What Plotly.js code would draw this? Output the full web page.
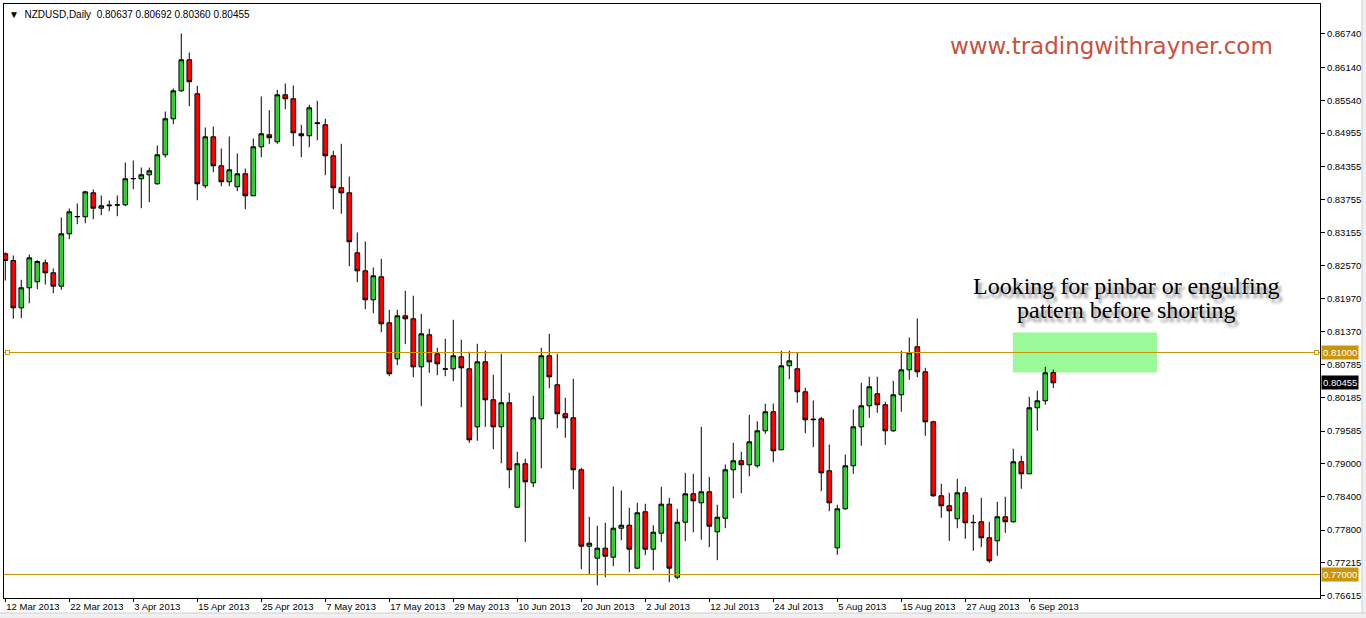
<!DOCTYPE html>
<html>
<head>
<meta charset="utf-8">
<script src="https://cdn.plot.ly/plotly-3.0.1.min.js"></script>
<style>html,body{margin:0;padding:0;background:#fff;}#chart{width:1366px;height:618px;}</style>
</head>
<body>
<div id="chart"></div>
<script>
const symbolTitle = 'NZDUSD,Daily';
const dates = [
'2013-03-12','2013-03-13','2013-03-14','2013-03-15','2013-03-18','2013-03-19','2013-03-20','2013-03-21','2013-03-22','2013-03-25','2013-03-26','2013-03-27','2013-03-28','2013-03-29',
'2013-04-01','2013-04-02','2013-04-03','2013-04-04','2013-04-05','2013-04-08','2013-04-09','2013-04-10','2013-04-11','2013-04-12','2013-04-15','2013-04-16','2013-04-17','2013-04-18','2013-04-19','2013-04-22','2013-04-23','2013-04-24','2013-04-25','2013-04-26','2013-04-29','2013-04-30',
'2013-05-01','2013-05-02','2013-05-03','2013-05-06','2013-05-07','2013-05-08','2013-05-09','2013-05-10','2013-05-13','2013-05-14','2013-05-15','2013-05-16','2013-05-17','2013-05-20','2013-05-21','2013-05-22','2013-05-23','2013-05-24','2013-05-27','2013-05-28','2013-05-29','2013-05-30','2013-05-31',
'2013-06-03','2013-06-04','2013-06-05','2013-06-06','2013-06-07','2013-06-10','2013-06-11','2013-06-12','2013-06-13','2013-06-14','2013-06-17','2013-06-18','2013-06-19','2013-06-20','2013-06-21','2013-06-24','2013-06-25','2013-06-26','2013-06-27','2013-06-28',
'2013-07-01','2013-07-02','2013-07-03','2013-07-04','2013-07-05','2013-07-08','2013-07-09','2013-07-10','2013-07-11','2013-07-12','2013-07-15','2013-07-16','2013-07-17','2013-07-18','2013-07-19','2013-07-22','2013-07-23','2013-07-24','2013-07-25','2013-07-26','2013-07-29','2013-07-30','2013-07-31',
'2013-08-01','2013-08-02','2013-08-05','2013-08-06','2013-08-07','2013-08-08','2013-08-09','2013-08-12','2013-08-13','2013-08-14','2013-08-15','2013-08-16','2013-08-19','2013-08-20','2013-08-21','2013-08-22','2013-08-23','2013-08-26','2013-08-27','2013-08-28','2013-08-29','2013-08-30',
'2013-09-02','2013-09-03','2013-09-04','2013-09-05','2013-09-06','2013-09-09','2013-09-10','2013-09-11'];
const open = [
0.82778,0.82658,0.81805,0.82166,0.82274,0.82616,0.82436,0.82195,0.83139,0.83445,0.83445,0.83877,0.83600,0.83643,
0.83655,0.83661,0.84130,0.84130,0.84202,0.84040,0.84562,0.85211,0.85715,0.86274,0.85661,0.84004,0.84886,0.84364,0.84076,0.83986,0.84220,0.83823,0.84706,0.84923,0.84796,0.85643,
0.85571,0.84941,0.84905,0.85140,0.85103,0.84544,0.83968,0.83877,0.82796,0.82472,0.81950,0.82364,0.81535,0.80886,0.81661,0.81607,0.80742,0.81319,0.80977,0.80706,0.80706,0.80923,0.80706,
0.79661,0.80832,0.80148,0.79661,0.80094,0.78213,0.78995,0.78652,0.79805,0.80941,0.80418,0.79896,0.79823,0.78887,0.77510,0.77294,0.77474,0.77312,0.77834,0.77888,
0.77114,0.78130,0.77456,0.77744,0.78267,0.76951,0.77942,0.78454,0.78292,0.78490,0.77769,0.78014,0.78887,0.79049,0.78977,0.78959,0.79589,0.79932,0.79247,0.80760,0.80706,0.80292,0.79800,
0.79805,0.78869,0.77481,0.78184,0.78959,0.79661,0.80040,0.80256,0.80058,0.79589,0.80238,0.80688,0.81103,0.80652,0.79751,0.78418,0.78238,0.78004,0.78472,0.77940,0.77950,0.77661,
0.77607,0.78040,0.77950,0.79031,0.78814,0.80004,0.80130,0.80637];
const high = [
0.82802,0.82748,0.82310,0.82766,0.82663,0.82676,0.82514,0.83432,0.83595,0.83685,0.83913,0.83937,0.83829,0.83739,
0.83829,0.84423,0.84459,0.84333,0.84333,0.84730,0.85342,0.85757,0.86748,0.86405,0.85805,0.85054,0.85072,0.84676,0.84892,0.84586,0.84315,0.84856,0.85613,0.85366,0.85733,0.85847,
0.85811,0.85103,0.85463,0.85535,0.85211,0.84634,0.84760,0.84171,0.83162,0.83000,0.82532,0.82688,0.81769,0.81769,0.82112,0.82022,0.81697,0.81427,0.81085,0.81247,0.81589,0.81229,0.81013,
0.81157,0.81031,0.80598,0.80977,0.80274,0.79211,0.79085,0.80220,0.81085,0.81337,0.80977,0.80184,0.80526,0.78923,0.78040,0.77878,0.77932,0.78586,0.78514,0.78202,
0.78292,0.78274,0.77888,0.78580,0.78382,0.78184,0.78832,0.78814,0.79661,0.78760,0.78256,0.78982,0.79373,0.79211,0.79877,0.79762,0.80076,0.80081,0.81031,0.81031,0.80995,0.80364,0.80135,
0.79841,0.79342,0.78256,0.79162,0.79973,0.80454,0.80562,0.80562,0.80112,0.80490,0.81031,0.81270,0.81613,0.80724,0.79769,0.78634,0.78472,0.78724,0.78580,0.78076,0.78382,0.77950,
0.78310,0.78400,0.79265,0.79139,0.80202,0.80310,0.80742,0.80692];
const low = [
0.82297,0.81607,0.81618,0.81888,0.82141,0.82225,0.82068,0.82130,0.83041,0.83312,0.83330,0.83402,0.83474,0.83546,
0.83456,0.83636,0.83942,0.83600,0.83708,0.84022,0.84514,0.85114,0.85697,0.85438,0.83744,0.83960,0.84249,0.83996,0.83996,0.83906,0.83582,0.83820,0.84519,0.84753,0.84760,0.85384,
0.84717,0.84519,0.84699,0.84825,0.84195,0.83582,0.83499,0.82555,0.82267,0.81780,0.81708,0.81366,0.80573,0.80771,0.81150,0.80555,0.80032,0.80634,0.80591,0.80573,0.80483,0.80014,0.79373,
0.79409,0.79661,0.79258,0.79005,0.78555,0.78195,0.77582,0.78573,0.78915,0.80357,0.79636,0.79463,0.78537,0.77096,0.77005,0.76807,0.76951,0.77150,0.77618,0.77041,
0.77096,0.77348,0.77078,0.77582,0.76861,0.76915,0.77600,0.77762,0.77625,0.77492,0.77258,0.77834,0.78375,0.78465,0.78771,0.78923,0.79535,0.79023,0.79240,0.80519,0.80094,0.79546,0.79294,
0.78501,0.78141,0.77355,0.78166,0.78814,0.79319,0.79823,0.79914,0.79337,0.79571,0.79932,0.80508,0.80555,0.79499,0.78400,0.78022,0.77607,0.77834,0.77643,0.77427,0.77492,0.77211,
0.77337,0.77751,0.77932,0.78544,0.78810,0.79589,0.80058,0.80360];
const close = [
0.82658,0.81805,0.82166,0.82706,0.82640,0.82436,0.82195,0.83139,0.83535,0.83450,0.83895,0.83600,0.83643,0.83655,
0.83661,0.84130,0.84135,0.84202,0.84274,0.84562,0.85211,0.85715,0.86274,0.85878,0.84040,0.84886,0.84364,0.84076,0.84292,0.84220,0.83823,0.84706,0.84941,0.84869,0.85643,0.85571,
0.84959,0.84905,0.85409,0.85125,0.84544,0.83968,0.83877,0.82995,0.82472,0.81950,0.82382,0.81517,0.80616,0.81661,0.81607,0.80742,0.81337,0.80832,0.80796,0.80700,0.80941,0.80724,0.79427,
0.80832,0.80148,0.79661,0.80094,0.78887,0.78995,0.78670,0.79823,0.80941,0.80562,0.79896,0.79823,0.78887,0.77510,0.77564,0.77474,0.77330,0.77834,0.77888,0.77456,
0.78112,0.77456,0.77762,0.78267,0.77114,0.77942,0.78454,0.78328,0.78490,0.77870,0.78032,0.78887,0.79049,0.78977,0.79391,0.79589,0.79932,0.79229,0.80760,0.80850,0.80292,0.79787,0.79790,
0.78832,0.78292,0.78184,0.78959,0.79661,0.80040,0.80382,0.80058,0.79589,0.80238,0.80688,0.80995,0.80652,0.79751,0.78418,0.78238,0.78148,0.78472,0.77932,0.77935,0.77661,0.77247,
0.78040,0.77950,0.79031,0.78814,0.80004,0.80130,0.80634,0.80455];

const xTickDates = ['2013-03-12','2013-03-22','2013-04-03','2013-04-15','2013-04-25','2013-05-07','2013-05-17','2013-05-29','2013-06-10','2013-06-20','2013-07-02','2013-07-12','2013-07-24','2013-08-05','2013-08-15','2013-08-27','2013-09-06'];
const xTickLabels = ['12 Mar 2013','22 Mar 2013','3 Apr 2013','15 Apr 2013','25 Apr 2013','7 May 2013','17 May 2013','29 May 2013','10 Jun 2013','20 Jun 2013','2 Jul 2013','12 Jul 2013','24 Jul 2013','5 Aug 2013','15 Aug 2013','27 Aug 2013','6 Sep 2013'];
const yTickValues = [0.86740,0.86140,0.85540,0.84955,0.84355,0.83755,0.83155,0.82570,0.81970,0.81370,0.80785,0.80185,0.79585,0.79000,0.78400,0.77800,0.77215,0.76615];
const yTickLabels = ['0.86740','0.86140','0.85540','0.84955','0.84355','0.83755','0.83155','0.82570','0.81970','0.81370','0.80785','0.80185','0.79585','0.79000','0.78400','0.77800','0.77215','0.76615'];

const resistanceLevel = 0.81000;
const supportLevel = 0.77000;
const zoneTop = 0.81360;
const zoneBottom = 0.80640;
const zoneStartIndex = 125.95;
const zoneEndIndex = 143.95;
const annotationLine1 = 'Looking for pinbar or engulfing';
const annotationLine2 = 'pattern before shorting';
const watermark = 'www.tradingwithrayner.com';

const last = open.length - 1;
const fmt = v => v.toFixed(5);
const headerText = symbolTitle + '\u00a0\u00a0' + [open[last], high[last], low[last], close[last]].map(fmt).join(' ');

const gold = '#C8960A';
const axisFont = {family: 'Liberation Sans, Arial, sans-serif', size: 9.5, color: '#000'};

const trace = {
  type: 'candlestick',
  x: dates, open: open, high: high, low: low, close: close,
  increasing: {fillcolor: '#32CD32', line: {color: '#000', width: 1}},
  decreasing: {fillcolor: '#FF0000', line: {color: '#000', width: 1}},
  whiskerwidth: 0,
  hoverinfo: 'none'
};

const layout = {
  width: 1366, height: 618,
  margin: {l: 4, r: 46, t: 4, b: 20, pad: 0},
  paper_bgcolor: '#fff', plot_bgcolor: '#fff',
  showlegend: false,
  boxgap: 0.42, boxgroupgap: 0,
  xaxis: {
    type: 'category',
    range: [-0.16, 164.34],
    rangeslider: {visible: false},
    showline: true, linecolor: '#000', linewidth: 1, mirror: true,
    ticks: 'outside', ticklen: 3, tickcolor: '#000', tickwidth: 1,
    tickmode: 'array', tickvals: xTickDates, ticktext: xTickLabels,
    ticklabelposition: 'outside right',
    tickfont: axisFont,
    showgrid: false, zeroline: false, fixedrange: true
  },
  yaxis: {
    side: 'right',
    range: [0.765766, 0.872793],
    showline: true, linecolor: '#000', linewidth: 1, mirror: true,
    ticks: 'outside', ticklen: 4, tickcolor: '#000', tickwidth: 1,
    tickmode: 'array', tickvals: yTickValues, ticktext: yTickLabels,
    tickfont: axisFont,
    showgrid: false, zeroline: false, fixedrange: true
  },
  shapes: [
    {type: 'rect', xref: 'paper', yref: 'paper', x0: 1.0319, x1: 1.05, y0: -0.05, y1: 1.02,
     fillcolor: '#F0F0F0', line: {color: '#D0D0D0', width: 1}, layer: 'below'},
    {type: 'rect', xref: 'paper', yref: 'paper', x0: -0.01, x1: 1.05, y0: -0.05, y1: -0.0253,
     fillcolor: '#F0F0F0', line: {color: '#D0D0D0', width: 1}, layer: 'below'},
    {type: 'rect', xref: 'x', yref: 'y', x0: zoneStartIndex, x1: zoneEndIndex, y0: zoneBottom, y1: zoneTop,
     fillcolor: '#9AFA9A', line: {width: 0}, layer: 'below'},
    {type: 'line', xref: 'paper', yref: 'y', x0: 0, x1: 1, y0: resistanceLevel, y1: resistanceLevel,
     line: {color: gold, width: 1}, layer: 'above'},
    {type: 'line', xref: 'paper', yref: 'y', x0: 0, x1: 1, y0: supportLevel, y1: supportLevel,
     line: {color: gold, width: 1}, layer: 'above'},
    {type: 'rect', xref: 'paper', xsizemode: 'pixel', xanchor: 0, x0: 1.5, x1: 5.5,
     yref: 'y', ysizemode: 'pixel', yanchor: resistanceLevel, y0: -2, y1: 2,
     fillcolor: '#fff', line: {color: gold, width: 1}, layer: 'above'},
    {type: 'rect', xref: 'paper', xsizemode: 'pixel', xanchor: 1, x0: -5.5, x1: -1.5,
     yref: 'y', ysizemode: 'pixel', yanchor: resistanceLevel, y0: -2, y1: 2,
     fillcolor: '#fff', line: {color: gold, width: 1}, layer: 'above'}
  ],
  annotations: [
    {xref: 'paper', yref: 'paper', x: 0, y: 1, xanchor: 'left', yanchor: 'top', xshift: 3, yshift: -3,
     text: '\u25BC\u00a0\u00a0' + headerText, showarrow: false, font: {family: 'Liberation Sans, Arial, sans-serif', size: 10, color: '#000'}},
    {xref: 'paper', yref: 'paper', x: 0.8419, y: 0.9293, xanchor: 'center', yanchor: 'middle',
     text: watermark, showarrow: false, font: {family: 'DejaVu Sans, sans-serif', size: 23, color: '#C8503C'}},
    {xref: 'paper', yref: 'y', x: 0.8533, y: 0.82207, xanchor: 'center', yanchor: 'middle',
     text: annotationLine1, showarrow: false,
     font: {family: 'Liberation Serif, Times New Roman, serif', size: 24, color: '#000', shadow: '3px 4px 3px rgba(0,0,0,0.45)'}},
    {xref: 'paper', yref: 'y', x: 0.8533, y: 0.81757, xanchor: 'center', yanchor: 'middle',
     text: annotationLine2, showarrow: false,
     font: {family: 'Liberation Serif, Times New Roman, serif', size: 24, color: '#000', shadow: '3px 4px 3px rgba(0,0,0,0.45)'}},
    {xref: 'paper', yref: 'y', x: 1, y: resistanceLevel, xanchor: 'left', yanchor: 'middle', xshift: 1,
     text: fmt(resistanceLevel), showarrow: false, bgcolor: gold, borderpad: 1,
     font: {family: 'Liberation Sans, Arial, sans-serif', size: 9.5, color: '#fff'}},
    {xref: 'paper', yref: 'y', x: 1, y: close[last], xanchor: 'left', yanchor: 'middle', xshift: 1,
     text: fmt(close[last]), showarrow: false, bgcolor: '#000', borderpad: 1,
     font: {family: 'Liberation Sans, Arial, sans-serif', size: 9.5, color: '#fff'}},
    {xref: 'paper', yref: 'y', x: 1, y: supportLevel, xanchor: 'left', yanchor: 'middle', xshift: 1,
     text: fmt(supportLevel), showarrow: false, bgcolor: gold, borderpad: 1,
     font: {family: 'Liberation Sans, Arial, sans-serif', size: 9.5, color: '#fff'}}
  ]
};

Plotly.newPlot('chart', [trace], layout, {displayModeBar: false, staticPlot: true});
</script>
</body>
</html>
